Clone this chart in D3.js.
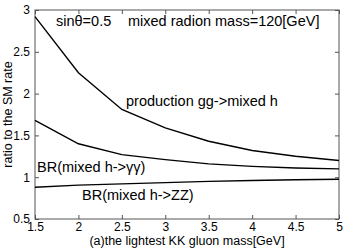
<!DOCTYPE html>
<html>
<head>
<meta charset="utf-8">
<script src="https://cdn.jsdelivr.net/npm/d3@7"></script>
<style>
  body { margin: 0; background: #fff; }
  text { font-family: "Liberation Sans", Arial, sans-serif; fill: #000; }
</style>
</head>
<body>
<div id="chart"></div>
<script>
// KK gluon masses (x)
var masses = [1.5, 2, 2.5, 3, 3.5, 4, 4.5, 5];
// ratios
var production = [2.92, 2.25, 1.81, 1.59, 1.43, 1.32, 1.25, 1.20];
var brGammaGamma = [1.68, 1.40, 1.27, 1.21, 1.16, 1.13, 1.11, 1.10];
var brZZ = [0.88, 0.905, 0.92, 0.935, 0.95, 0.96, 0.97, 0.975];
var xTicks = [1.5, 2, 2.5, 3, 3.5, 4, 4.5, 5];
var yTicks = [0.5, 1, 1.5, 2, 2.5, 3];

var width = 354, height = 251;
var margin = {left: 35, right: 15, top: 10, bottom: 32};

var svg = d3.select("#chart").append("svg")
  .attr("width", width)
  .attr("height", height);

var x = d3.scaleLinear().domain([1.5, 5]).range([margin.left, width - margin.right]);
var y = d3.scaleLinear().domain([0.5, 3]).range([height - margin.bottom, margin.top]);

var tickLen = 4;
var axisColor = "#555";

// ticks on all four sides, pointing inward
var xAxisB = d3.axisBottom(x).tickValues(xTicks).tickSizeInner(-tickLen).tickSizeOuter(0)
  .tickPadding(3).tickFormat(d3.format("~g"));
var xAxisT = d3.axisTop(x).tickValues(xTicks).tickSizeInner(-tickLen).tickSizeOuter(0).tickFormat("");
var yAxisL = d3.axisLeft(y).tickValues(yTicks).tickSizeInner(-tickLen).tickSizeOuter(0)
  .tickPadding(5).tickFormat(d3.format("~g"));
var yAxisR = d3.axisRight(y).tickValues(yTicks).tickSizeInner(-tickLen).tickSizeOuter(0).tickFormat("");

function styleAxis(g) {
  g.select(".domain").remove();
  g.selectAll("line").attr("stroke", axisColor);
  g.selectAll("text").attr("font-size", 12).attr("font-family", "Liberation Sans, Arial, sans-serif").attr("fill", "#000");
}

svg.append("g").attr("transform", "translate(0," + y(0.5) + ")").call(xAxisB).call(styleAxis);
svg.append("g").attr("transform", "translate(0," + y(3) + ")").call(xAxisT).call(styleAxis);
svg.append("g").attr("transform", "translate(" + x(1.5) + ",0)").call(yAxisL).call(styleAxis);
svg.append("g").attr("transform", "translate(" + x(5) + ",0)").call(yAxisR).call(styleAxis);

// box
svg.append("rect")
  .attr("x", x(1.5)).attr("y", y(3))
  .attr("width", x(5) - x(1.5)).attr("height", y(0.5) - y(3))
  .attr("fill", "none").attr("stroke", axisColor).attr("stroke-width", 1);

var line = d3.line()
  .x(function (d, i) { return x(masses[i]); })
  .y(function (d) { return y(d); });

[production, brGammaGamma, brZZ].forEach(function (series) {
  svg.append("path")
    .datum(series)
    .attr("d", line)
    .attr("fill", "none")
    .attr("stroke", "#000")
    .attr("stroke-width", 1.4);
});

// annotations
var fs = 14.5;
svg.append("text").attr("x", 56).attr("y", 26).attr("font-size", fs).text("sinθ=0.5");
svg.append("text").attr("x", 128).attr("y", 26).attr("font-size", fs).text("mixed radion mass=120[GeV]");
svg.append("text").attr("x", 126).attr("y", 106).attr("font-size", fs).text("production gg->mixed h");
svg.append("text").attr("x", 37).attr("y", 172).attr("font-size", fs).text("BR(mixed h->γγ)");
svg.append("text").attr("x", 82).attr("y", 200).attr("font-size", fs).text("BR(mixed h->ZZ)");

// axis labels
svg.append("text")
  .attr("x", (x(1.5) + x(5)) / 2).attr("y", 245)
  .attr("text-anchor", "middle").attr("font-size", 12.5)
  .text("(a)the lightest KK gluon mass[GeV]");
svg.append("text")
  .attr("transform", "translate(12," + ((y(0.5) + y(3)) / 2) + ") rotate(-90)")
  .attr("text-anchor", "middle").attr("font-size", 12.5)
  .text("ratio to the SM rate");
</script>
</body>
</html>
